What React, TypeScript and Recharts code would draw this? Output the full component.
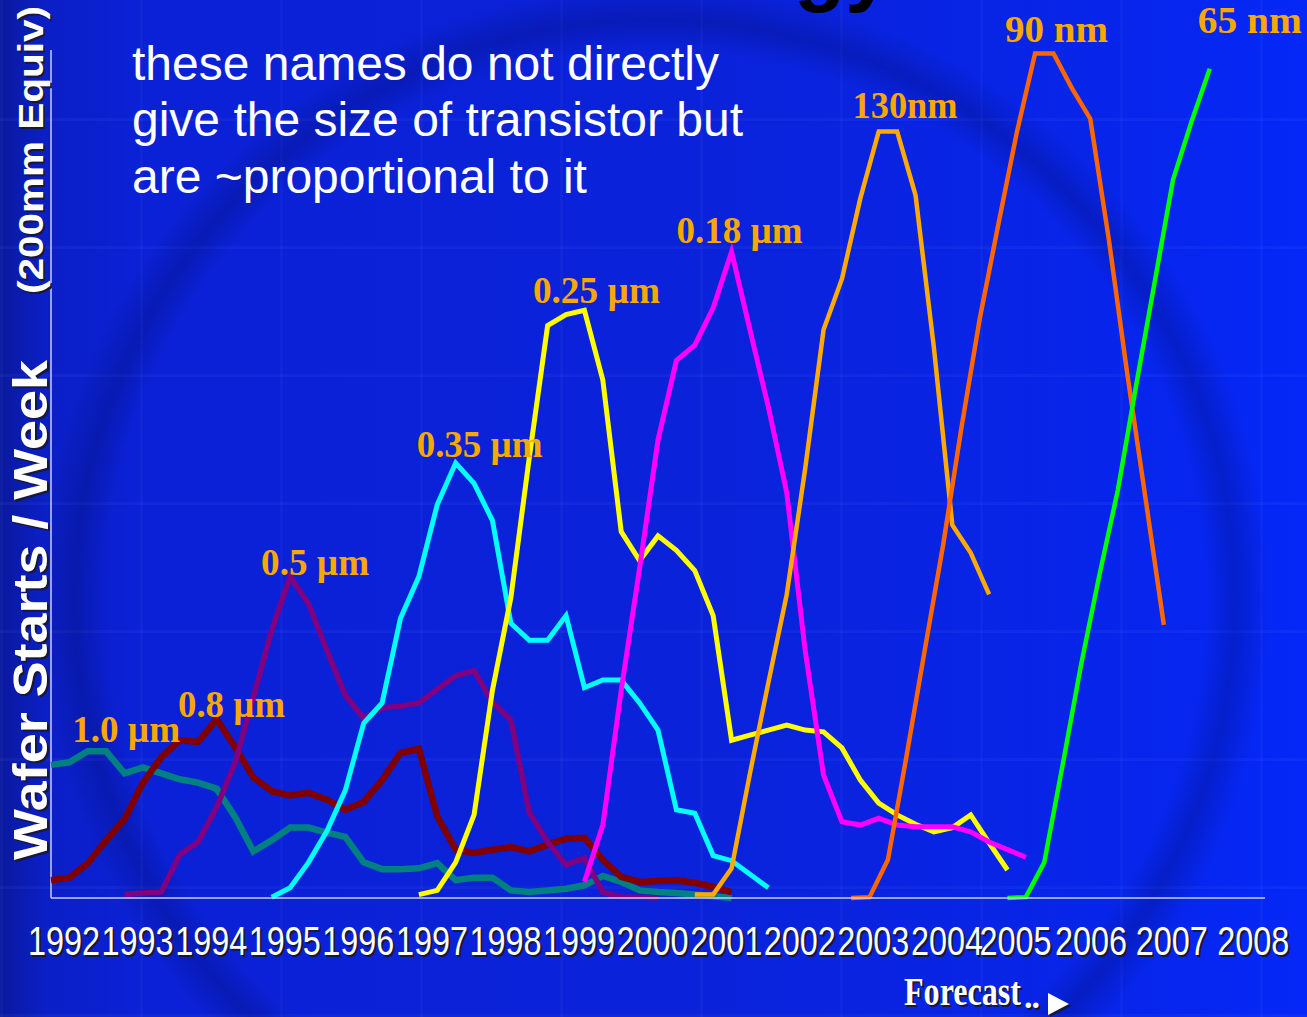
import { LineChart, Line, XAxis, YAxis, ReferenceLine } from "recharts";

// Year ticks along the bottom
const YEARS = [
  1992, 1993, 1994, 1995, 1996, 1997, 1998, 1999, 2000, 2001, 2002, 2003, 2004,
  2005, 2006, 2007, 2008,
];

// Process nodes, oldest first
const NODE_NAMES = ["1.0 µm", "0.8 µm", "0.5 µm", "0.35 µm", "0.25 µm", "0.18 µm", "130nm", "90 nm", "65 nm"];

// Decimal year of each curve's first sample; samples are one quarter apart
const FIRST_SAMPLE = [1992, 1992, 1993, 1995, 1997, 1999.25, 2000.75, 2002.875, 2005];

// Wafer starts per week, % of full scale
const UM_1_0 = [
  15.7, 16.0, 17.3, 17.3, 14.7, 15.4, 14.7, 14.0, 13.6, 12.9, 9.6, 5.5, 6.8, 8.3, 8.3, 7.7, 7.2, 4.2, 3.4,
  3.4, 3.5, 4.1, 2.1, 2.4, 2.4, 0.9, 0.7, 0.9, 1.1, 1.5, 2.6, 1.9, 0.9, 0.7, 0.6, 0.4, 0.2, 0.0,
];
const UM_0_8 = [
  2.1, 2.4, 4.1, 6.8, 9.3, 13.6, 16.6, 18.6, 18.4, 21.1, 17.8, 14.2, 12.6, 12.1, 12.4, 11.6, 10.4, 11.3,
  13.9, 17.1, 17.6, 9.6, 5.7, 5.3, 5.7, 6.0, 5.5, 6.3, 7.0, 7.1, 4.5, 2.5, 1.9, 2.0, 2.1, 1.8, 1.3, 0.7,
];
const UM_0_5 = [
  0.4, 0.6, 0.7, 5.1, 6.6, 10.7, 15.9, 23.7, 31.6, 37.9, 34.7, 29.2, 23.9, 21.2, 22.4, 22.6, 23.0, 24.6,
  26.2, 26.8, 23.1, 21.0, 10.1, 6.6, 3.9, 4.7, 0.7, 0.1, 0.1, 0.0,
];
const UM_0_35 = [
  0.1, 1.2, 4.2, 7.9, 12.7, 20.6, 23.0, 33.0, 37.9, 46.4, 51.3, 48.9, 44.5, 32.4, 30.4, 30.4, 33.3, 24.8,
  25.7, 25.7, 23.0, 19.8, 10.4, 10.0, 5.0, 4.4, 2.8, 1.2,
];
const UM_0_25 = [
  0.4, 0.9, 4.2, 9.8, 24.5, 35.4, 51.9, 67.5, 68.8, 69.3, 61.1, 43.2, 39.8, 42.7, 41.0, 38.6, 33.3, 18.6,
  19.2, 19.8, 20.4, 19.8, 19.6, 17.7, 13.9, 11.2, 9.8, 8.7, 7.8, 8.3, 9.8, 6.5, 3.3,
];
const UM_0_18 = [
  1.9, 8.6, 24.5, 38.9, 54.0, 63.4, 65.2, 69.6, 76.2, 67.0, 57.9, 47.8, 29.2, 14.5, 9.0, 8.6, 9.4, 8.6,
  8.4, 8.4, 8.4, 7.8, 6.6, 5.7, 4.8,
];
const NM_130 = [0.4, 0.4, 3.5, 14.7, 25.4, 35.8, 50.6, 67.0, 73.0, 82.5, 90.4, 90.4, 82.9, 64.9, 44.0, 40.7, 35.8];
const NM_90 = [0.0, 0.1, 4.5, 16.6, 29.2, 41.6, 55.5, 68.4, 79.4, 90.2, 99.6, 99.6, 95.5, 91.9, 77.8, 62.0, 47.2, 32.2];
const NM_65 = [0.0, 0.1, 4.2, 15.7, 27.5, 38.1, 48.1, 60.5, 72.6, 84.7, 91.5, 97.8];

const SERIES_VALUES = [UM_1_0, UM_0_8, UM_0_5, UM_0_35, UM_0_25, UM_0_18, NM_130, NM_90, NM_65];

// Sample that carries each node's name
const LABEL_SAMPLE = [3, 9, 9, 10, 9, 8, 11, 11, 11];

const STYLES = [
  { color: "#008080", width: 6.5, dx: 20, dy: -9, span: 108 },
  { color: "#800000", width: 6.5, dx: 15, dy: -2, span: 107 },
  { color: "#800080", width: 5.5, dx: 25, dy: -2, span: 108 },
  { color: "#00ffff", width: 5, dx: 24, dy: -6, span: 126 },
  { color: "#ffff00", width: 5, dx: 12, dy: -7, span: 127 },
  { color: "#ff00ff", width: 5, dx: 8, dy: -9, span: 126 },
  { color: "#ffaa00", width: 4.5, dx: 8, dy: -13, span: 105 },
  { color: "#ff6600", width: 4.5, dx: 3, dy: -11, span: 103 },
  { color: "#00ff00", width: 4.5, dx: 40, dy: -36, span: 104 },
];

const LABEL_COLOR = "#f8a800";
const AXIS_COLOR = "rgba(200, 205, 255, 0.75)";
const SHADOW = "#18183a";
const SANS = "'Liberation Sans', Arial, sans-serif";
const NARROW = "'Liberation Sans Narrow', 'Liberation Sans', Arial, sans-serif";
const SERIF = "'Liberation Serif', 'Times New Roman', serif";

// forecast years were spaced a little wider on the slide
const TICK_SHIFT: Record<number, number> = { 2005: 8, 2006: 10, 2007: 17, 2008: 25 };

const series = SERIES_VALUES.map((values, s) =>
  values.map((v, i) => ({ t: FIRST_SAMPLE[s] + i * 0.25, v })),
);

function YearTick(props: any) {
  const { x, y, payload } = props;
  const year = payload.value as number;
  const cx = x + (TICK_SHIFT[year] ?? 13);
  const common = {
    textAnchor: "middle" as const,
    fontFamily: NARROW,
    fontSize: 40,
    textLength: 72,
    lengthAdjust: "spacingAndGlyphs" as const,
  };
  return (
    <g>
      <text {...common} x={cx + 2} y={y + 59} fill={SHADOW}>
        {year}
      </text>
      <text {...common} x={cx} y={y + 57} fill="#ffffff">
        {year}
      </text>
    </g>
  );
}

const nodeLabel = (s: number) => (p: any) => {
  if (p.index !== LABEL_SAMPLE[s]) return <g key={`n${s}-${p.index}`} />;
  const st = STYLES[s];
  return (
    <text
      key={`n${s}-${p.index}`}
      x={p.cx + st.dx}
      y={p.cy + st.dy}
      textAnchor="middle"
      fontFamily={SERIF}
      fontWeight="bold"
      fontSize={38}
      textLength={st.span}
      lengthAdjust="spacingAndGlyphs"
      fill={LABEL_COLOR}
    >
      {NODE_NAMES[s]}
    </text>
  );
};

function Shadowed({ children, dx = 2, dy = 2, ...rest }: any) {
  return (
    <g>
      <text {...rest} fill={SHADOW} dx={dx} dy={dy}>
        {children}
      </text>
      <text {...rest} fill="#ffffff">
        {children}
      </text>
    </g>
  );
}

function Overlay() {
  return (
    <svg
      width={1307}
      height={1017}
      style={{ position: "absolute", left: 0, top: 0, pointerEvents: "none" }}
    >
      {/* bottom of the slide title, cut by the frame */}
      <text x={892} y={-4} textAnchor="end" fontFamily={SANS} fontWeight="bold" fontSize={84} fill="#000">
        Technology
      </text>

      <g fontFamily={SANS} fontSize={48} fill="#ffffff">
        <text x={132} y={80}>these names do not directly</text>
        <text x={132} y={136}>give the size of transistor but</text>
        <text x={132} y={193}>are ~proportional to it</text>
      </g>

      <g transform="rotate(-90)">
        <Shadowed
          x={-610}
          y={47}
          textAnchor="middle"
          fontFamily={SANS}
          fontWeight="bold"
          fontSize={49}
          textLength={500}
          lengthAdjust="spacingAndGlyphs"
          dx={-2}
        >
          Wafer Starts / Week
        </Shadowed>
        <Shadowed
          x={-150}
          y={43}
          textAnchor="middle"
          fontFamily={SANS}
          fontWeight="bold"
          fontSize={35}
          textLength={288}
          lengthAdjust="spacingAndGlyphs"
          dx={-2}
        >
          (200mm Equiv)
        </Shadowed>
      </g>

      <Shadowed
        x={904}
        y={1005}
        fontFamily={SERIF}
        fontWeight="bold"
        fontSize={40}
        textLength={117}
        lengthAdjust="spacingAndGlyphs"
      >
        Forecast
      </Shadowed>
      <Shadowed x={1024} y={1008} fontFamily={SERIF} fontWeight="bold" fontSize={34} textLength={16} lengthAdjust="spacing">
        . .
      </Shadowed>
      <polygon points="1050,995 1071,1006 1050,1017" fill={SHADOW} />
      <polygon points="1048,993 1069,1004 1048,1015" fill="#ffffff" />
    </svg>
  );
}

export default function App() {
  return (
    <div
      style={{
        position: "absolute",
        left: 0,
        top: 0,
        width: 1307,
        height: 1017,
        overflow: "hidden",
        background:
          "radial-gradient(circle at 655px 600px, rgba(0,0,40,0) 0, rgba(0,0,40,0) 550px, rgba(0,0,50,0.2) 580px, rgba(0,0,40,0) 615px)," +
          "repeating-linear-gradient(0deg, rgba(160,180,255,0.05) 0 3px, rgba(0,0,0,0) 3px 128px)," +
          "repeating-linear-gradient(90deg, rgba(160,180,255,0.04) 0 3px, rgba(0,0,0,0) 3px 140px)," +
          "linear-gradient(90deg, #0a199e 0px, #0b1fc6 45px, #0a21d6 140px, #0a22da 55%, #0725ea 85%, #0528f8 100%)",
      }}
    >
      <LineChart width={1307} height={1017} margin={{ top: 50, right: 42, bottom: 0, left: 51 }}>
        <XAxis
          type="number"
          dataKey="t"
          domain={[1992, 2008.5]}
          ticks={YEARS}
          interval={0}
          height={119}
          tickLine={false}
          tickSize={0}
          tickMargin={0}
          axisLine={{ stroke: AXIS_COLOR, strokeWidth: 2 }}
          tick={<YearTick />}
        />
        <YAxis hide type="number" domain={[0, 100]} />
        <ReferenceLine x={1992} stroke={AXIS_COLOR} strokeWidth={2} />
        {series.map((points, s) => (
          <Line
            key={NODE_NAMES[s]}
            data={points}
            dataKey="v"
            type="linear"
            stroke={STYLES[s].color}
            strokeWidth={STYLES[s].width}
            dot={nodeLabel(s)}
            activeDot={false}
            legendType="none"
            isAnimationActive={false}
          />
        ))}
      </LineChart>
      <Overlay />
    </div>
  );
}
